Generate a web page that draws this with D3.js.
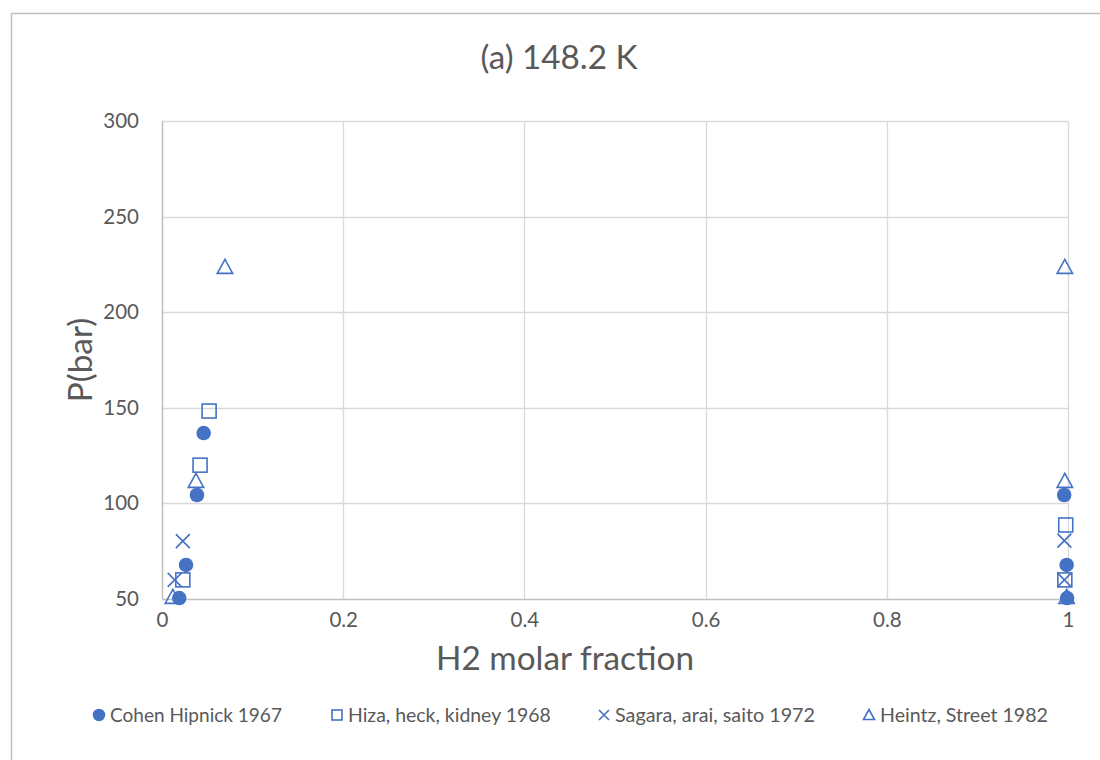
<!DOCTYPE html>
<html><head><meta charset="utf-8">
<script src="https://cdn.jsdelivr.net/npm/d3@7"></script>
<style>body{margin:0;background:#fff}svg{display:block}text{font-family:Lato,"Open Sans",sans-serif;fill:#595959}</style>
</head><body><svg id="c" width="1100" height="760"></svg>
<script>
const title = "(a) 148.2 K";
const xLabel = "H2 molar fraction";
const yLabel = "P(bar)";
const xTicks = [0, 0.2, 0.4, 0.6, 0.8, 1];
const yTicks = [50, 100, 150, 200, 250, 300];
const seriesNames = ["Cohen Hipnick 1967", "Hiza, heck, kidney 1968", "Sagara, arai, saito 1972", "Heintz, Street 1982"];
const seriesShapes = ["circle", "square", "x", "triangle"];
const cohenX = [0.019, 0.0265, 0.0386, 0.046, 0.999, 0.9985, 0.9958];
const cohenP = [50.5, 67.8, 104.4, 136.8, 50.5, 67.8, 104.4];
const hizaX = [0.023, 0.042, 0.052, 0.9965, 0.9975];
const hizaP = [60, 120, 148.3, 60, 88.7];
const sagaraX = [0.014, 0.023, 0.996, 0.996];
const sagaraP = [60, 80.3, 60, 80.5];
const heintzX = [0.012, 0.0375, 0.0695, 0.9985, 0.9965, 0.9965];
const heintzP = [51, 111.7, 223.6, 51, 111.7, 223.6];

const seriesX = [cohenX, hizaX, sagaraX, heintzX];
const seriesP = [cohenP, hizaP, sagaraP, heintzP];
const color = "#4472C4";

const svg = d3.select("#c");
svg.append("rect").attr("x",11.5).attr("y",13.5).attr("width",1100).attr("height",760)
  .attr("fill","#fff").attr("stroke","#bfbfbf").attr("stroke-width",1.5);

const x = d3.scaleLinear().domain([0,1]).range([162,1068]);
const y = d3.scaleLinear().domain([50,300]).range([599,121]);

function fit(sel, w){
  sel.style("font-size","20px");
  const l = sel.node().getComputedTextLength();
  const fs = 20*w/l;
  sel.style("font-size", fs.toFixed(2)+"px");
  return fs;
}

// grid
svg.append("g").selectAll("line.h").data(yTicks.filter(d=>d>50)).join("line")
  .attr("x1",x(0)).attr("x2",x(1)).attr("y1",d=>Math.round(y(d))+0.5).attr("y2",d=>Math.round(y(d))+0.5)
  .attr("stroke","#d9d9d9").attr("stroke-width",1.3);
svg.append("g").selectAll("line.v").data(xTicks.filter(d=>d>0)).join("line")
  .attr("y1",y(50)).attr("y2",y(300)).attr("x1",d=>Math.round(x(d))+0.5).attr("x2",d=>Math.round(x(d))+0.5)
  .attr("stroke","#d9d9d9").attr("stroke-width",1.3);

// axes
const xAxis = svg.append("g").attr("transform",`translate(0,${y(50)})`)
  .call(d3.axisBottom(x).tickValues(xTicks).tickSize(0).tickPadding(13).tickFormat(d3.format("")));
const yAxis = svg.append("g").attr("transform",`translate(${x(0)},0)`)
  .call(d3.axisLeft(y).tickValues(yTicks).tickSize(0).tickPadding(23));
[xAxis,yAxis].forEach(g=>{
  g.select(".domain").attr("stroke","#bfbfbf").attr("stroke-width",1.5);
  g.selectAll("text").style("font-family","Lato, sans-serif").attr("fill","#595959").style("font-size","20.5px");
});

// titles
fit(svg.append("text").attr("x",559).attr("y",69).attr("text-anchor","middle").text(title), 157);
const axFs = fit(svg.append("text").attr("x",565).attr("y",670).attr("text-anchor","middle").text(xLabel), 258);
svg.append("text").attr("transform","translate(92,360) rotate(-90)").attr("text-anchor","middle")
  .style("font-size", axFs.toFixed(2)+"px").text(yLabel);

function marker(g, shape, s){
  if(shape==="circle") g.append("circle").attr("r",s*0.52).attr("fill",color);
  else if(shape==="square") g.append("rect").attr("x",-s/2).attr("y",-s/2).attr("width",s).attr("height",s)
      .attr("fill","none").attr("stroke",color).attr("stroke-width",1.6);
  else if(shape==="x") g.append("path").attr("d",`M${-s/2},${-s/2}L${s/2},${s/2}M${-s/2},${s/2}L${s/2},${-s/2}`)
      .attr("stroke",color).attr("stroke-width",1.6).attr("fill","none");
  else if(shape==="triangle") g.append("path").attr("d",`M0,${-s*0.55}L${s*0.55},${s*0.45}L${-s*0.55},${s*0.45}Z`)
      .attr("fill","none").attr("stroke",color).attr("stroke-width",1.6);
}

seriesNames.forEach((name,i)=>{
  const pts = seriesX[i].map((v,j)=>[v, seriesP[i][j]]);
  const g = svg.append("g");
  pts.forEach(p=>{
    const m = g.append("g").attr("transform",`translate(${x(p[0])},${y(p[1])})`);
    marker(m, seriesShapes[i], 14);
  });
});

// legend
const legendX = [99, 337, 604, 869];
const legendW = [172, 203, 200, 168];
seriesNames.forEach((name,i)=>{
  const m = svg.append("g").attr("transform",`translate(${legendX[i]},715)`);
  marker(m, seriesShapes[i], seriesShapes[i]==="circle"?12:10);
  fit(svg.append("text").attr("x",legendX[i]+11).attr("y",722).text(name), legendW[i]);
});
</script></body></html>
